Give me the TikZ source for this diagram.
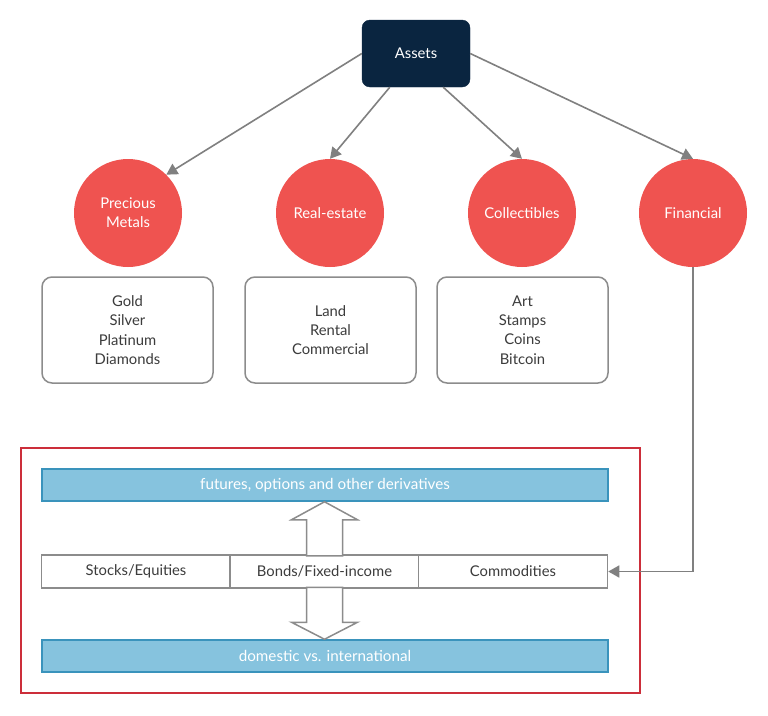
\documentclass[tikz,border=0pt]{standalone}
\usepackage{fontspec}
\setmainfont{Lato}
\usetikzlibrary{arrows.meta}
\definecolor{navy}{HTML}{0A2540}
\definecolor{coral}{HTML}{EF5350}
\definecolor{framered}{HTML}{CC2E3A}
\definecolor{barfill}{HTML}{86C3DE}
\definecolor{barline}{HTML}{3A93BC}
\definecolor{linkgray}{HTML}{808080}
\definecolor{boxgray}{HTML}{8C8C8C}
\definecolor{textgray}{HTML}{3C3C3C}
\begin{document}
\begin{tikzpicture}[x=1pt,y=-1pt,
    font=\fontsize{14.8}{19.3}\selectfont,
    rootbox/.style={fill=navy,draw=navy,rounded corners=8pt,minimum width=108pt,minimum height=67pt,text=white,inner sep=0pt},
    classnode/.style={circle,fill=coral,minimum size=108pt,inner sep=0pt,text=white,align=center},
    listbox/.style={draw=boxgray,line width=1.5pt,rounded corners=10pt,fill=white,minimum width=171pt,minimum height=106pt,text=textgray,align=center,inner sep=0pt},
    bar/.style={draw=barline,line width=1.5pt,fill=barfill,minimum width=566pt,minimum height=32pt,text=white,inner sep=0pt,font=\fontsize{15.2}{18}\selectfont},
    cell/.style={draw=boxgray,line width=1.5pt,fill=white,minimum width=189pt,minimum height=33pt,text=textgray,inner sep=0pt},
    link/.style={draw=linkgray,line width=1.6pt,-{Triangle[length=11pt,width=12pt]}},
    blockarrow/.style={draw=boxgray,line width=1.5pt,fill=white,line join=miter}]
    \useasboundingbox[fill=white] (0,0) rectangle (768,715);
    %% root
    \node[rootbox] (assets) at (416,53.5) {Assets};
    %% four classes
    \node[classnode] (metals) at (128,213) {Precious\\Metals};
    \node[classnode] (realestate) at (330,213) {Real-estate};
    \node[classnode] (collect) at (522,213) {Collectibles};
    \node[classnode] (financial) at (693,213) {Financial};
    %% connect
    \draw[link] (assets.west) -- (metals.north east);
    \draw[link] ([xshift=28pt]assets.south west) -- (realestate.north);
    \draw[link] ([xshift=-27pt]assets.south east) -- (collect.north);
    \draw[link] (assets.east) -- (financial.north);
    %% lists
    \node[listbox] (metalslist) at (127.5,330) {Gold\\Silver\\Platinum\\Diamonds};
    \node[listbox] (realestatelist) at (330.5,330) {Land\\Rental\\Commercial};
    \node[listbox] (collectlist) at (522.5,330) {Art\\Stamps\\Coins\\Bitcoin};
    %% financial frame
    \draw[framered,line width=1.5pt] (21,448) rectangle (640,693);
    \node[bar] (deriv) at (325,485) {futures, options and other derivatives};
    \node[cell] (stocks) at (136,571.5) {Stocks/Equities};
    \node[cell] (bonds) at (324.5,571.5) {Bonds/Fixed-income};
    \node[cell] (commod) at (513,571.5) {Commodities};
    \node[bar] (region) at (325,656) {domestic vs. international};
    \draw[link] (financial.south) |- (commod.east);
    %% hollow arrows
    \draw[blockarrow] (bonds.north |- deriv.south) -- ++(33,18) -- ++(-15,0) -- ++(0,36)
        -- ++(-36,0) -- ++(0,-36) -- ++(-15,0) -- cycle;
    \draw[blockarrow] (bonds.south |- region.north) -- ++(33,-17) -- ++(-15,0) -- ++(0,-35)
        -- ++(-36,0) -- ++(0,35) -- ++(-15,0) -- cycle;
\end{tikzpicture}
\end{document}
